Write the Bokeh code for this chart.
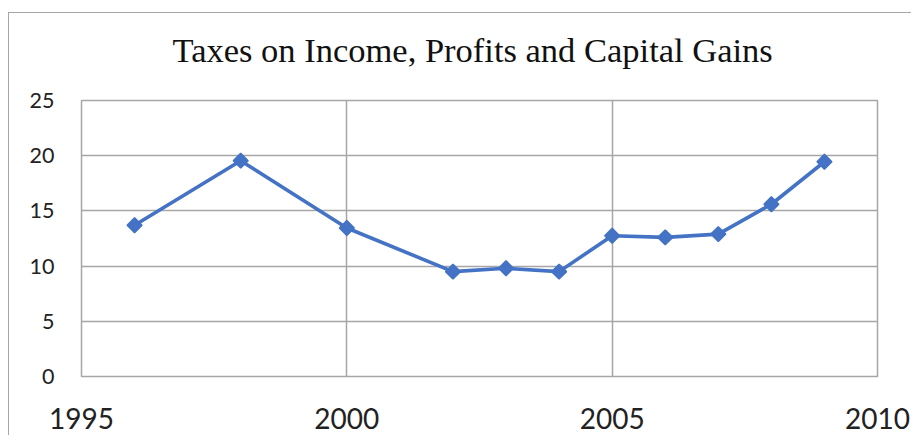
from bokeh.plotting import figure
from bokeh.models import FixedTicker, Title, ColumnDataSource
from bokeh.embed import file_html
from bokeh.resources import INLINE
import numpy as np

years = [1996, 1998, 2000, 2002, 2003, 2004, 2005, 2006, 2007, 2008, 2009]
taxes = [13.7, 19.55, 13.45, 9.5, 9.8, 9.5, 12.75, 12.6, 12.9, 15.6, 19.45]
x_ticks = [1995, 2000, 2005, 2010]
y_ticks = [0, 5, 10, 15, 20, 25]
title_text = "Taxes on Income,  Profits and Capital Gains"

BLUE = "#4472C4"
GRID = "#a6a6a6"

p = figure(width=903, height=435, output_backend="svg", toolbar_location=None,
           x_range=(1995, 2010), y_range=(0, 25),
           min_border_left=73, min_border_right=34, min_border_top=100, min_border_bottom=59)
p.styles = {
    "margin-top": "0px", "margin-left": "8px",
    "background-color": "white",
    "background-image": "linear-gradient(#a6a6a6, #a6a6a6), linear-gradient(#a6a6a6, #a6a6a6)",
    "background-size": "100% 1px, 1px 100%",
    "background-position": "0px 12px, 0px 12px",
    "background-repeat": "no-repeat",
}

t = Title(text=title_text, align="left", vertical_align="top",
          text_font="Liberation Serif", text_font_size="34.5px", text_line_height=1.0,
          text_font_style="normal", text_color="#111111", standoff=60, offset=91)
p.add_layout(t, "above")

src = ColumnDataSource(dict(x=years, y=taxes))
p.line("x", "y", source=src, line_color=BLUE, line_width=3.6)
p.scatter("x", "y", source=src, marker="square", angle=np.pi / 4, size=10.5,
          fill_color=BLUE, line_color=BLUE, line_width=1.5)

for ax in (p.xaxis[0], p.yaxis[0]):
    ax.axis_line_color = None
    ax.major_tick_line_color = None
    ax.minor_tick_line_color = None
    ax.major_tick_out = 0
    ax.major_tick_in = 0
    ax.major_label_text_font = "Lato"
    ax.major_label_text_color = "#222222"

p.xaxis.ticker = FixedTicker(ticks=x_ticks)
p.yaxis.ticker = FixedTicker(ticks=y_ticks)
p.xaxis.major_label_text_font_size = "28px"
p.yaxis.major_label_text_font_size = "21.5px"
p.xaxis.major_label_standoff = 31
p.yaxis.major_label_standoff = 27

p.xgrid.ticker = FixedTicker(ticks=x_ticks)
p.ygrid.ticker = FixedTicker(ticks=y_ticks)
for g in (p.xgrid[0], p.ygrid[0]):
    g.grid_line_color = GRID
    g.grid_line_width = 1.5

p.outline_line_color = GRID
p.outline_line_width = 1.5
p.background_fill_color = "white"
p.border_fill_color = None

open("out.html", "w").write(file_html(p, INLINE))
